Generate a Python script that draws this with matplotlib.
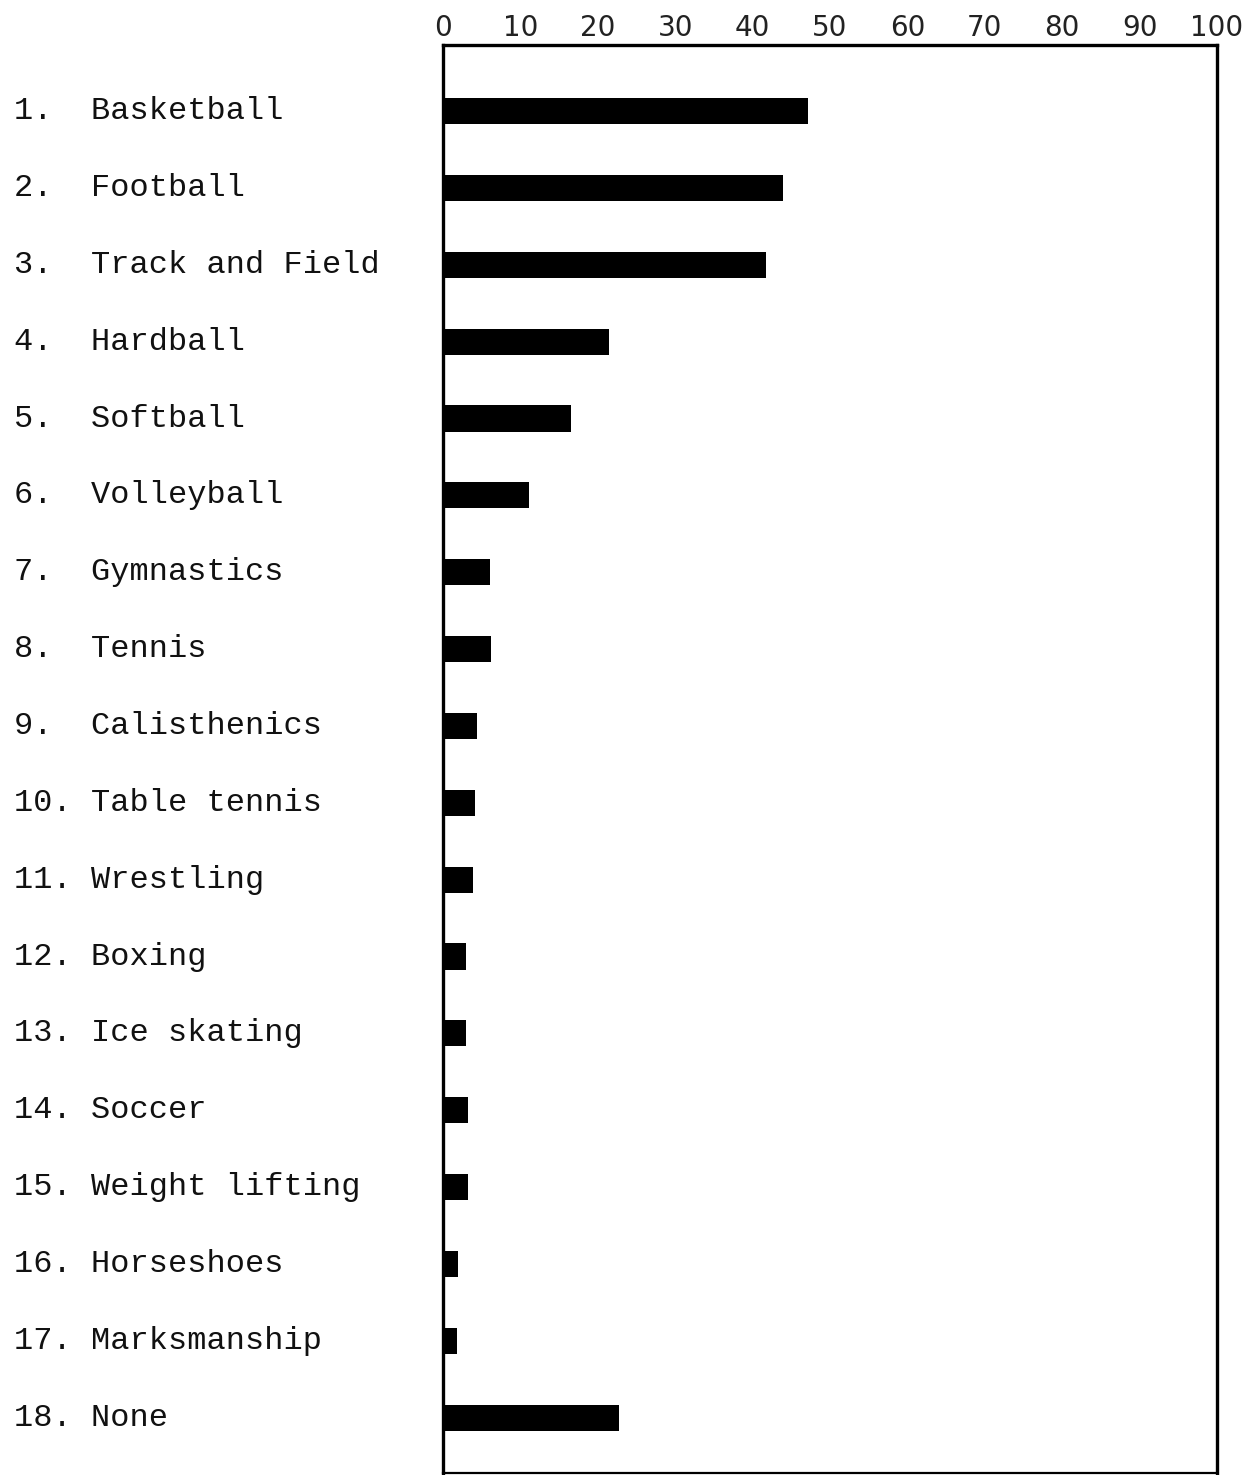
import numpy as np
import matplotlib.pyplot as plt
import matplotlib.transforms as mtransforms

# Sports and percent of respondents
sports = ['Basketball', 'Football', 'Track and Field', 'Hardball', 'Softball',
          'Volleyball', 'Gymnastics', 'Tennis', 'Calisthenics', 'Table tennis',
          'Wrestling', 'Boxing', 'Ice skating', 'Soccer', 'Weight lifting',
          'Horseshoes', 'Marksmanship', 'None']
percent = [47.2, 43.9, 41.7, 21.4, 16.5, 11.1, 6.1, 6.2, 4.4, 4.1,
           3.9, 3.0, 3.0, 3.2, 3.2, 1.9, 1.8, 22.7]
x_ticks = [0, 10, 20, 30, 40, 50, 60, 70, 80, 90, 100]

fig = plt.figure(figsize=(12.58, 14.75), dpi=100)
ax = fig.add_axes([443 / 1258, 2 / 1475, (1217 - 443) / 1258, (1473 - 45) / 1475])

y = np.arange(len(sports))
ax.barh(y, percent, height=0.34, color='black', left=0)

ax.set_xlim(0, 100)
ax.set_ylim(len(sports) - 1 + 0.72, -0.86)

ax.xaxis.tick_top()
ax.set_xticks(x_ticks)
ax.set_xticklabels([str(t) for t in x_ticks], fontsize=20, family='DejaVu Sans',
                   color='#222222')
ax.tick_params(axis='x', length=0, pad=2)
ax.set_yticks([])

for s in ax.spines.values():
    s.set_linewidth(2.4)
    s.set_color('black')
ax.spines['bottom'].set_linewidth(1.6)

# typewriter style row labels on the left
trans = mtransforms.blended_transform_factory(fig.transFigure, ax.transData)
for i, name in enumerate(sports):
    label = f'{i + 1}.'.ljust(4) + name
    ax.text(14 / 1258, i, label, transform=trans, ha='left', va='center',
            fontsize=23, family='Liberation Mono', color='#111111')

fig.savefig('out.png', dpi=100)
